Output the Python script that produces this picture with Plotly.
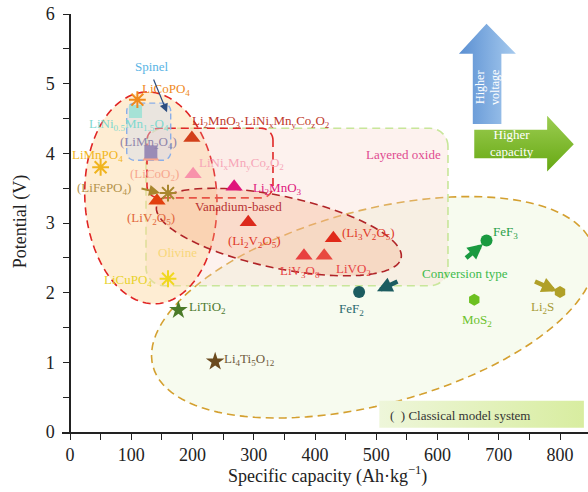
import math
import plotly.graph_objects as go

# ---- data ----------------------------------------------------------------
materials = [
    "LiNi0.5Mn1.5O4", "LiCoPO4", "LiCoO2", "LiMn2O4", "LiMnPO4",
    "Li2MnO3·LiNiMnCoO2", "LiNiMnCoO2", "Li2MnO3", "LiFePO4", "LiV2O5",
    "Li2V2O5", "Li3V2O5", "LiV3O8", "LiVO2", "LiCuPO4",
    "FeF2", "FeF3", "MoS2", "Li2S", "LiTiO2", "Li4Ti5O12",
]
capacity = [107, 110, 132, 132, 50,
            199, 201, 268, 160, 142,
            291, 430, 382, 415, 160,
            472, 680, 660, 800, 177, 237]
potential = [4.60, 4.77, 3.95, 4.02, 3.80,
             4.22, 3.70, 3.52, 3.43, 3.32,
             3.01, 2.78, 2.53, 2.53, 2.20,
             2.01, 2.75, 1.90, 2.01, 1.75, 1.01]

x_ticks = [0, 100, 200, 300, 400, 500, 600, 700, 800]
y_ticks = [0, 1, 2, 3, 4, 5, 6]

# ---- styling per material -------------------------------------------------
style = {
    "LiNi0.5Mn1.5O4": ("square", "#a6e2d6", 13),
    "LiCoPO4": ("asterisk-open", "#f08a1c", 14),
    "LiCoO2": ("triangle-up", "#f6a48e", 15),
    "LiMn2O4": ("square", "#9a8bb6", 13),
    "LiMnPO4": ("asterisk-open", "#f0b41e", 14),
    "Li2MnO3·LiNiMnCoO2": ("triangle-up", "#d2401a", 15),
    "LiNiMnCoO2": ("triangle-up", "#f892ab", 15),
    "Li2MnO3": ("triangle-up", "#e0157c", 15),
    "LiFePO4": ("asterisk-open", "#a8862e", 14),
    "LiV2O5": ("triangle-up", "#e2400e", 15),
    "Li2V2O5": ("triangle-up", "#dc2a1c", 15),
    "Li3V2O5": ("triangle-up", "#e02a1a", 15),
    "LiV3O8": ("triangle-up", "#e84040", 15),
    "LiVO2": ("triangle-up", "#e84840", 15),
    "LiCuPO4": ("asterisk-open", "#f0d820", 14),
    "FeF2": ("circle", "#1c5c60", 12),
    "FeF3": ("circle", "#1a9a40", 12),
    "MoS2": ("hexagon", "#6cc020", 12),
    "Li2S": ("hexagon", "#b0a028", 12),
    "LiTiO2": ("star", "#4a7a28", 14),
    "Li4Ti5O12": ("star", "#6b4a1e", 14),
}

FONT = "Liberation Serif"

# plot geometry (pixels) used to size rounded corners and ellipses
W, H = 588, 492
ML, MR, MT, MB = 62, 0, 14, 60
X_RANGE = [-13.06, 845.7]
Y_RANGE = [0, 6]
PX_X = (W - ML - MR) / (X_RANGE[1] - X_RANGE[0])
PX_Y = (H - MT - MB) / (Y_RANGE[1] - Y_RANGE[0])


def ellipse_path(cx, cy, a_px, b_px, angle_deg, n=120):
    th = math.radians(angle_deg)
    pts = []
    for i in range(n):
        t = 2 * math.pi * i / n
        dx = a_px * math.cos(t) * math.cos(th) - b_px * math.sin(t) * math.sin(th)
        dy = a_px * math.cos(t) * math.sin(th) + b_px * math.sin(t) * math.cos(th)
        pts.append((cx + dx / PX_X, cy + dy / PX_Y))
    return "M " + " L ".join(f"{x:.3f},{y:.4f}" for x, y in pts) + " Z"


def rounded_rect_path(x0, x1, y0, y1, r_px, n=10):
    rx, ry = r_px / PX_X, r_px / PX_Y
    corners = [(x1 - rx, y1 - ry, 0), (x0 + rx, y1 - ry, 90),
               (x0 + rx, y0 + ry, 180), (x1 - rx, y0 + ry, 270)]
    pts = []
    for cx, cy, start in corners:
        for k in range(n + 1):
            a = math.radians(start + 90 * k / n)
            pts.append((cx + rx * math.cos(a), cy + ry * math.sin(a)))
    return "M " + " L ".join(f"{x:.3f},{y:.4f}" for x, y in pts) + " Z"


DASH = "8px,5px"
shapes = [
    # conversion-type region
    dict(type="path", path=ellipse_path(495, 1.79, 228, 97, 15),
         fillcolor="rgba(232,244,208,0.35)",
         line=dict(color="#d4a030", width=1.6, dash=DASH)),
    # layered-oxide region
    dict(type="path", path=rounded_rect_path(124.1, 617.1, 2.10, 4.36, 18),
         fillcolor="rgba(250,212,198,0.30)",
         line=dict(color="#c8e69a", width=1.6, dash=DASH)),
    # olivine / spinel region
    dict(type="path", path=ellipse_path(132, 3.36, 106, 66, 93),
         fillcolor="rgba(253,214,158,0.45)",
         line=dict(color="#e02424", width=1.6, dash=DASH)),
    # Li-rich layered box
    dict(type="path", path=rounded_rect_path(125.7, 331.4, 3.36, 4.36, 12),
         fillcolor="rgba(250,205,200,0.15)",
         line=dict(color="#e02828", width=1.6, dash=DASH)),
    # vanadium-based region
    dict(type="path", path=ellipse_path(341, 2.87, 125, 36, -12),
         fillcolor="rgba(245,172,135,0.33)",
         line=dict(color="#b02428", width=1.6, dash=DASH)),
    # spinel box
    dict(type="path", path=rounded_rect_path(92.6, 164.4, 3.90, 4.72, 8),
         fillcolor="rgba(205,218,242,0.40)",
         line=dict(color="#8aaee8", width=1.4, dash="6px,4px")),
]

fig = go.Figure()

# "Higher voltage" arrow
fig.add_trace(go.Scatter(
    x=[657.6, 704.3, 704.3, 728, 680, 635, 657.6, 657.6],
    y=[4.42, 4.42, 5.43, 5.43, 5.86, 5.43, 5.43, 4.42],
    mode="lines", line=dict(width=0), fill="toself",
    fillgradient=dict(type="horizontal",
                      colorscale=[[0, "#5a8fd2"], [1, "#a6caee"]]),
    hoverinfo="skip", showlegend=False))

# "Higher capacity" arrow
fig.add_trace(go.Scatter(
    x=[660, 779, 779, 822.5, 779, 779, 660, 660],
    y=[3.93, 3.93, 3.74, 4.13, 4.54, 4.34, 4.34, 3.93],
    mode="lines", line=dict(width=0), fill="toself",
    fillgradient=dict(type="vertical",
                      colorscale=[[0, "#66a812"], [1, "#9ccd52"]]),
    hoverinfo="skip", showlegend=False))

# note box
fig.add_trace(go.Scatter(
    x=[505, 839, 839, 505, 505],
    y=[0.062, 0.062, 0.449, 0.449, 0.062],
    mode="lines", line=dict(width=0), fill="toself",
    fillgradient=dict(type="horizontal",
                      colorscale=[[0, "#eef6da"], [1, "#d8eda0"]]),
    hoverinfo="skip", showlegend=False))

# material markers
for name, cap, pot in zip(materials, capacity, potential):
    sym, col, size = style[name]
    marker = dict(symbol=sym, color=col, size=size, line=dict(width=0))
    if sym.endswith("open"):
        marker["line"] = dict(color=col, width=2)
    fig.add_trace(go.Scatter(x=[cap], y=[pot], mode="markers", marker=marker,
                             name=name, showlegend=False))

# text labels: (text, x, y, colour)
labels = [
    ("Spinel", 134, 5.24, "#5ab4e5"),
    ("LiCoPO<sub>4</sub>", 157, 4.92, "#f08a24"),
    ("LiNi<sub>0.5</sub>Mn<sub>1.5</sub>O<sub>4</sub>", 96, 4.42, "#7fd9cf"),
    ("(LiMn<sub>2</sub>O<sub>4</sub>)", 128.5, 4.16, "#8f84aa"),
    ("LiMnPO<sub>4</sub>", 45.5, 3.97, "#f2b622"),
    ("(LiCoO<sub>2</sub>)", 137.7, 3.70, "#f7a890"),
    ("(LiFePO<sub>4</sub>)", 55.5, 3.50, "#b3934a"),
    ("(LiV<sub>2</sub>O<sub>5</sub>)", 133, 3.07, "#e2663c"),
    ("Olivine", 176.3, 2.57, "#f8d77a"),
    ("LiCuPO<sub>4</sub>", 94, 2.18, "#e8d22a"),
    ("Li<sub>2</sub>MnO<sub>3</sub>·LiNi<sub>x</sub>Mn<sub>y</sub>Co<sub>z</sub>O<sub>2</sub>",
     311.6, 4.46, "#c0392b"),
    ("LiNi<sub>x</sub>Mn<sub>y</sub>Co<sub>z</sub>O<sub>2</sub>", 280, 3.85, "#f7a6b8"),
    ("Li<sub>2</sub>MnO<sub>3</sub>", 339.3, 3.50, "#e0197e"),
    ("Vanadium-based", 274.3, 3.23, "#b83232"),
    ("Layered oxide", 544.5, 3.99, "#e04a90"),
    ("(Li<sub>2</sub>V<sub>2</sub>O<sub>5</sub>)", 301.2, 2.73, "#e03828"),
    ("(Li<sub>3</sub>V<sub>2</sub>O<sub>5</sub>)", 487.3, 2.85, "#e03828"),
    ("LiV<sub>3</sub>O<sub>8</sub>", 375.5, 2.31, "#e84444"),
    ("LiVO<sub>2</sub>", 462.6, 2.33, "#e84444"),
    ("FeF<sub>2</sub>", 460, 1.76, "#2a6a6e"),
    ("FeF<sub>3</sub>", 711.8, 2.87, "#2aa048"),
    ("Conversion type", 645.4, 2.28, "#3cba4c"),
    ("MoS<sub>2</sub>", 664, 1.60, "#6cc22c"),
    ("Li<sub>2</sub>S", 771.8, 1.79, "#a89c38"),
    ("LiTiO<sub>2</sub>", 223.7, 1.79, "#4e7a30"),
    ("Li<sub>4</sub>Ti<sub>5</sub>O<sub>12</sub>", 293, 1.04, "#6e5a3c"),
]

annotations = []
for text, x, y, col in labels:
    annotations.append(dict(x=x, y=y, text=text, showarrow=False,
                            font=dict(family=FONT, size=13, color=col),
                            xanchor="center", yanchor="middle"))

# pointer arrows: (head x, head y, tail x, tail y, colour, width, size)
pointers = [
    (158.4, 4.59, 135.5, 5.08, "#2c4d80", 1.2, 1.4),
    (146.9, 3.43, 114.3, 3.50, "#a8862e", 2.0, 1.1),
    (501.2, 2.02, 537.1, 2.17, "#1c5c60", 4.5, 0.68),
    (674.3, 2.70, 644.2, 2.48, "#1a9a40", 4.5, 0.68),
    (795.0, 2.02, 756.7, 2.17, "#b0a028", 4.5, 0.68),
]
for hx, hy, tx, ty, col, w, s in pointers:
    annotations.append(dict(x=hx, y=hy, ax=tx, ay=ty, axref="x", ayref="y",
                            text="", showarrow=True, arrowhead=2,
                            arrowsize=s, arrowwidth=w, arrowcolor=col))

annotations += [
    dict(x=682, y=4.95, text="Higher<br>voltage", showarrow=False,
         textangle=-90, font=dict(family=FONT, size=12, color="white")),
    dict(x=721.6, y=4.15, text="Higher<br>capacity", showarrow=False,
         font=dict(family=FONT, size=13, color="white")),
    dict(x=519, y=0.244, text="(  ) Classical model system", showarrow=False,
         xanchor="left", font=dict(family=FONT, size=13, color="#333333")),
    dict(xref="paper", yref="paper", x=0.5057, y=-0.103,
         xanchor="center", yanchor="middle",
         text="Specific capacity (Ah·kg<sup>−1</sup>)", showarrow=False,
         font=dict(family=FONT, size=18, color="#222222")),
    dict(xref="paper", yref="paper", x=-0.0798, y=0.502,
         xanchor="center", yanchor="middle",
         text="Potential (V)", showarrow=False, textangle=-90,
         font=dict(family=FONT, size=18, color="#222222")),
]

axis_common = dict(showgrid=False, zeroline=False, showline=True,
                   linecolor="#222222", linewidth=1.5, ticks="outside",
                   ticklen=6, tickwidth=1.3, tickcolor="#222222",
                   tickfont=dict(family=FONT, size=18, color="#222222"))

fig.update_layout(
    width=W, height=H,
    margin=dict(l=ML, r=MR, t=MT, b=MB),
    paper_bgcolor="white", plot_bgcolor="white",
    shapes=[dict(s, xref="x", yref="y", layer="below") for s in shapes],
    annotations=annotations,
    xaxis=dict(axis_common, range=X_RANGE, tickvals=x_ticks,
               minor=dict(dtick=50, tick0=0, ticks="outside", ticklen=6,
                          tickwidth=1.3, tickcolor="#222222")),
    yaxis=dict(axis_common, range=Y_RANGE, tickvals=y_ticks,
               anchor="free", position=8 / (W - ML - MR),
               ticklabelstandoff=5,
               minor=dict(dtick=0.5, tick0=0, ticks="outside", ticklen=6,
                          tickwidth=1.3, tickcolor="#222222")),
    showlegend=False,
)

fig.write_html("out.html")
